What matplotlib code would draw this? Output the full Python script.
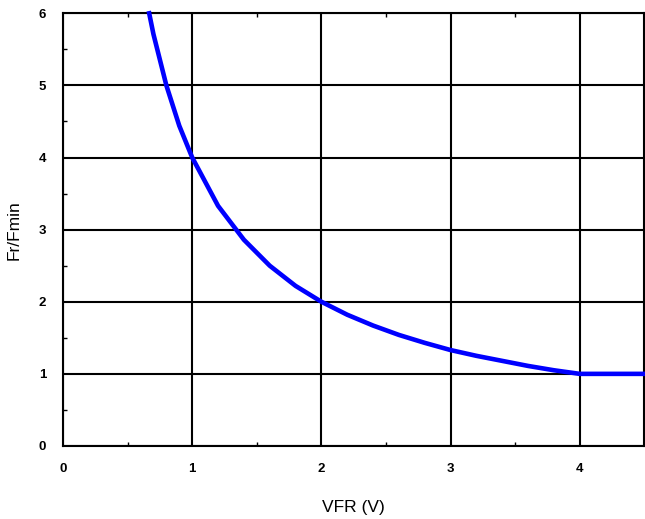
import matplotlib
matplotlib.use("Agg")
import matplotlib.pyplot as plt
from matplotlib.ticker import MultipleLocator

vfr = [0.667, 0.7, 0.8, 0.9, 1.0, 1.2, 1.4, 1.6, 1.8, 2.0, 2.2, 2.4, 2.6, 2.8,
       3.0, 3.2, 3.4, 3.6, 3.8, 4.0, 4.5]
ratio = [6.0, 5.71, 5.0, 4.44, 4.0, 3.33, 2.86, 2.5, 2.22, 2.0, 1.82, 1.67, 1.54,
         1.43, 1.33, 1.25, 1.18, 1.11, 1.05, 1.0, 1.0]
xticks = [0, 1, 2, 3, 4]
yticks = [0, 1, 2, 3, 4, 5, 6]

plt.rcParams['font.family'] = ['Liberation Sans', 'DejaVu Sans']
fig = plt.figure(figsize=(6.45, 5.19), dpi=100)
ax = fig.add_axes([0.0977, 0.1407, 0.9013, 0.8337])
ax.plot(vfr, ratio, color='#0000ff', linewidth=3.3, solid_joinstyle='miter', zorder=3, clip_on=False)
ax.set_xlim(0, 4.5)
ax.set_ylim(0, 6)
ax.set_xticks(xticks)
ax.set_yticks(yticks)
ax.xaxis.set_minor_locator(MultipleLocator(0.5))
ax.yaxis.set_minor_locator(MultipleLocator(0.5))
ax.grid(True, which='major', color='black', linewidth=1.5)
ax.tick_params(which='major', length=0, labelsize=9.5, pad=12)
ax.tick_params(which='minor', direction='in', length=3, width=1, top=True, right=False)
for lab in ax.get_xticklabels() + ax.get_yticklabels():
    lab.set_fontweight('bold')
for s in ax.spines.values():
    s.set_linewidth(1.5)
ax.set_xlabel('VFR (V)', fontsize=12.5, va='center')
ax.set_ylabel('Fr/Fmin', fontsize=12.5, va='center')
ax.xaxis.set_label_coords(0.5, -0.142)
ax.yaxis.set_label_coords(-0.084, 0.5)
fig.savefig('out.png', dpi=100)
